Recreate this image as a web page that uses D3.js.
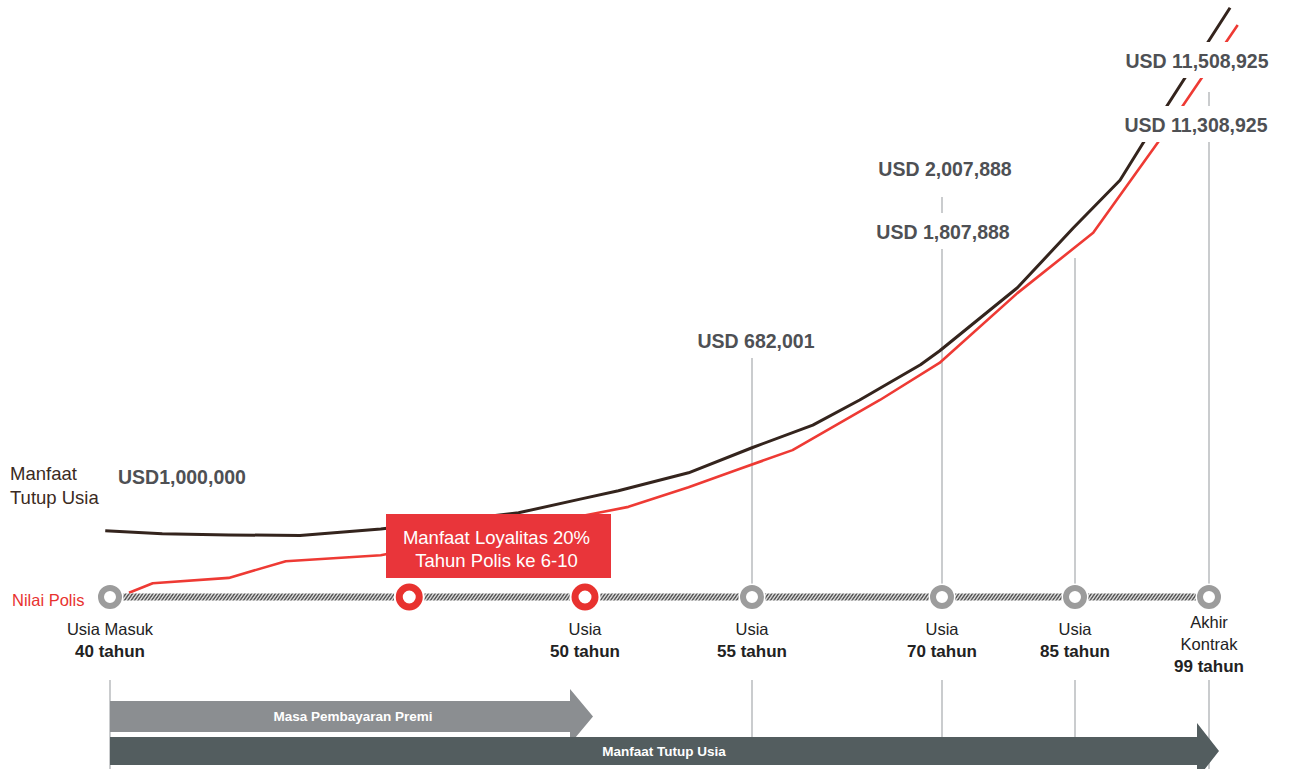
<!DOCTYPE html>
<html>
<head>
<meta charset="utf-8">
<script src="https://cdn.jsdelivr.net/npm/d3@7"></script>
<style>
  html, body { margin: 0; padding: 0; background: #ffffff; }
  svg { display: block; font-family: "Liberation Sans", Arial, sans-serif; }
</style>
</head>
<body>
<svg id="chart" width="1289" height="769"></svg>
<script>
// ---------------- DATA ----------------
// Milestone ages on the timeline
const milestoneAges = [40, 50, 55, 70, 85, 99];
const milestoneTopText = [["Usia Masuk"], ["Usia"], ["Usia"], ["Usia"], ["Usia"], ["Akhir", "Kontrak"]];
const milestoneYearText = ["40 tahun", "50 tahun", "55 tahun", "70 tahun", "85 tahun", "99 tahun"];
// Loyalty bonus markers (policy years 6-10)
const loyaltyAges = [46.3, 50];
const loyaltyText = ["Manfaat Loyalitas 20%", "Tahun Polis ke 6-10"];

// Death benefit line (Manfaat Tutup Usia) - relative height index (illustrative curve)
const deathAges   = [39.9, 41.1, 42.5, 44.0, 45.7, 48.6, 49.9, 51.0, 53.1, 55.0, 59.8, 63.5, 68.3, 69.8, 78.5, 84.8, 89.7, 92.1, 101.2];
const deathValues = [11.1, 10.6, 10.4, 10.3, 11.4, 14.1, 16.4, 17.8, 20.8, 25.0, 28.8, 33.0, 38.9, 41.2, 51.8, 61.8, 69.8, 76.0, 98.7];
// Policy value line (Nilai Polis)
const policyAges   = [40.4, 40.9, 42.5, 43.7, 45.7, 50.4, 51.3, 53.1, 54.6, 58.2, 65.1, 69.8, 78.5, 86.9, 93.6, 102.0];
const policyValues = [0.7, 2.3, 3.2, 6.0, 7.0, 14.1, 15.1, 18.4, 21.4, 24.6, 33.0, 39.2, 50.9, 61.0, 76.0, 95.8];

// Value annotations
const valueLabelAges = [55, 70, 70, 99, 99];
const valueLabels = ["USD 682,001", "USD 2,007,888", "USD 1,807,888", "USD 11,508,925", "USD 11,308,925"];
const startValueLabel = "USD1,000,000";
const seriesNames = ["Manfaat\nTutup Usia", "Nilai Polis"];
const periodNames = ["Masa Pembayaran Premi", "Manfaat Tutup Usia"];

// ---------------- LAYOUT ----------------
const svg = d3.select("#chart");
const timelineY = 597;
const x = d3.scaleLinear()
  .domain(milestoneAges)
  .range([110, 585, 752, 942, 1075, 1209]);
const y = d3.scaleLinear().domain([0, 100]).range([timelineY, 0]);

const COL_DARK = "#34241d";
const COL_RED = "#ee3a34";
const COL_GRAY_RING = "#9c9c9c";
const COL_VLINE = "#b8bbbe";
const COL_LABEL = "#4e5054";

// value label layout (baseline y and x offset relative to milestone)
const valueLabelY = [348, 176, 239, 68, 132];
const valueLabelDx = [4, 3, 1, -12, -13];
// vertical guide tops (above the timeline)
const guideTop = { 55: 358, 70: 197, 85: 258, 99: 92 };
// lower guide bottoms
const guideBottom = { 40: 769, 55: 738, 70: 738, 85: 738, 99: 769 };

// ---------------- DEFS ----------------
const defs = svg.append("defs");
const pat = defs.append("pattern")
  .attr("id", "hatch").attr("patternUnits", "userSpaceOnUse")
  .attr("width", 3.4).attr("height", 8)
  .attr("patternTransform", "skewX(-35)");
pat.append("rect").attr("width", 3.4).attr("height", 8).attr("fill", "#d4d4d4");
pat.append("rect").attr("width", 1.7).attr("height", 8).attr("fill", "#5b5b5b");

// ---------------- GUIDE LINES ----------------
const gGuides = svg.append("g");
milestoneAges.forEach(a => {
  if (guideTop[a] !== undefined) {
    gGuides.append("line")
      .attr("x1", x(a)).attr("x2", x(a))
      .attr("y1", guideTop[a]).attr("y2", timelineY)
      .attr("stroke", COL_VLINE).attr("stroke-width", 1.5);
  }
  if (guideBottom[a] !== undefined) {
    gGuides.append("line")
      .attr("x1", x(a)).attr("x2", x(a))
      .attr("y1", 680).attr("y2", guideBottom[a])
      .attr("stroke", COL_VLINE).attr("stroke-width", 1.5);
  }
});

// ---------------- LINES ----------------
const lineGen = d3.line().x(d => x(d[0])).y(d => y(d[1]));
svg.append("path")
  .datum(deathAges.map((a, i) => [a, deathValues[i]]))
  .attr("d", lineGen).attr("fill", "none")
  .attr("stroke", COL_DARK).attr("stroke-width", 3).attr("stroke-linejoin", "round");
svg.append("path")
  .datum(policyAges.map((a, i) => [a, policyValues[i]]))
  .attr("d", lineGen).attr("fill", "none")
  .attr("stroke", COL_RED).attr("stroke-width", 2.6).attr("stroke-linejoin", "round");

// ---------------- VALUE LABELS ----------------
const gVal = svg.append("g");
valueLabels.forEach((t, i) => {
  const g = gVal.append("g");
  const txt = g.append("text")
    .attr("x", x(valueLabelAges[i]) + valueLabelDx[i])
    .attr("y", valueLabelY[i])
    .attr("text-anchor", "middle")
    .attr("font-size", 19.5).attr("font-weight", "bold")
    .attr("fill", COL_LABEL).text(t);
  const bb = txt.node().getBBox();
  g.insert("rect", "text")
    .attr("x", bb.x - 3).attr("y", bb.y - 8)
    .attr("width", bb.width + 6).attr("height", bb.height + 14)
    .attr("fill", "#ffffff");
});

// start label
svg.append("text").attr("x", 118).attr("y", 484)
  .attr("font-size", 19.5).attr("font-weight", "bold")
  .attr("fill", COL_LABEL).text(startValueLabel);

// series names
const nameLines = seriesNames[0].split("\n");
svg.append("text").attr("x", 10).attr("y", 480)
  .attr("font-size", 18.5).attr("fill", "#3b2a22")
  .selectAll("tspan").data(nameLines).join("tspan")
  .attr("x", 10).attr("dy", (d, i) => i === 0 ? 0 : 24).text(d => d);
svg.append("text").attr("x", 12).attr("y", 606)
  .attr("font-size", 16.5).attr("fill", "#e8322f").text(seriesNames[1]);

// ---------------- TIMELINE ----------------
svg.append("rect")
  .attr("x", x(40) + 10).attr("y", timelineY - 3.5)
  .attr("width", x(99) - x(40) - 20).attr("height", 7)
  .attr("fill", "url(#hatch)");

// gray milestone rings
milestoneAges.filter(a => a !== 50).forEach(a => {
  svg.append("circle").attr("cx", x(a)).attr("cy", timelineY).attr("r", 13.5).attr("fill", "#ffffff");
  svg.append("circle").attr("cx", x(a)).attr("cy", timelineY).attr("r", 9)
    .attr("fill", "#ffffff").attr("stroke", COL_GRAY_RING).attr("stroke-width", 6);
});

// loyalty box
const boxX0 = 386, boxX1 = 611, boxY0 = 514, boxY1 = 578;
svg.append("rect").attr("x", boxX0).attr("y", boxY0)
  .attr("width", boxX1 - boxX0).attr("height", boxY1 - boxY0)
  .attr("fill", "#e9353a");
loyaltyText.forEach((t, i) => {
  svg.append("text").attr("x", (boxX0 + boxX1) / 2 - 2).attr("y", 544 + i * 23)
    .attr("text-anchor", "middle").attr("font-size", 18.5)
    .attr("fill", "#ffffff").text(t);
});

// red loyalty rings
loyaltyAges.forEach(a => {
  svg.append("circle").attr("cx", x(a)).attr("cy", timelineY).attr("r", 15.5).attr("fill", "#ffffff");
  svg.append("circle").attr("cx", x(a)).attr("cy", timelineY).attr("r", 10)
    .attr("fill", "#ffffff").attr("stroke", "#e8322f").attr("stroke-width", 7);
});

// milestone text
milestoneAges.forEach((a, i) => {
  const top = milestoneTopText[i];
  const startY = top.length === 1 ? 635 : 628;
  top.forEach((t, j) => {
    svg.append("text").attr("x", x(a)).attr("y", startY + j * 21.5)
      .attr("text-anchor", "middle").attr("font-size", 16.5)
      .attr("fill", "#222222").text(t);
  });
  svg.append("text").attr("x", x(a)).attr("y", startY + top.length * 21.5 + 0.5)
    .attr("text-anchor", "middle").attr("font-size", 17).attr("font-weight", "bold")
    .attr("fill", "#222222").text(milestoneYearText[i]);
});

// ---------------- PERIOD ARROWS ----------------
function arrow(xs, xe, yTop, yBot, headOver, headLen, fill) {
  const mid = (yTop + yBot) / 2;
  const p = d3.path();
  p.moveTo(xs, yTop);
  p.lineTo(xe - headLen, yTop);
  p.lineTo(xe - headLen, yTop - headOver);
  p.lineTo(xe, mid);
  p.lineTo(xe - headLen, yBot + headOver);
  p.lineTo(xe - headLen, yBot);
  p.lineTo(xs, yBot);
  p.closePath();
  svg.append("path").attr("d", p.toString()).attr("fill", fill);
}
arrow(x(40), x(50) + 8, 701, 732, 12, 23, "#8b8e91");
arrow(x(40), x(99) + 10, 737, 765, 14, 22, "#535d5f");

svg.append("text").attr("x", 353).attr("y", 721)
  .attr("text-anchor", "middle").attr("font-size", 13.5).attr("font-weight", "bold")
  .attr("fill", "#ffffff").text(periodNames[0]);
svg.append("text").attr("x", 664).attr("y", 756)
  .attr("text-anchor", "middle").attr("font-size", 13.5).attr("font-weight", "bold")
  .attr("fill", "#ffffff").text(periodNames[1]);
</script>
</body>
</html>
